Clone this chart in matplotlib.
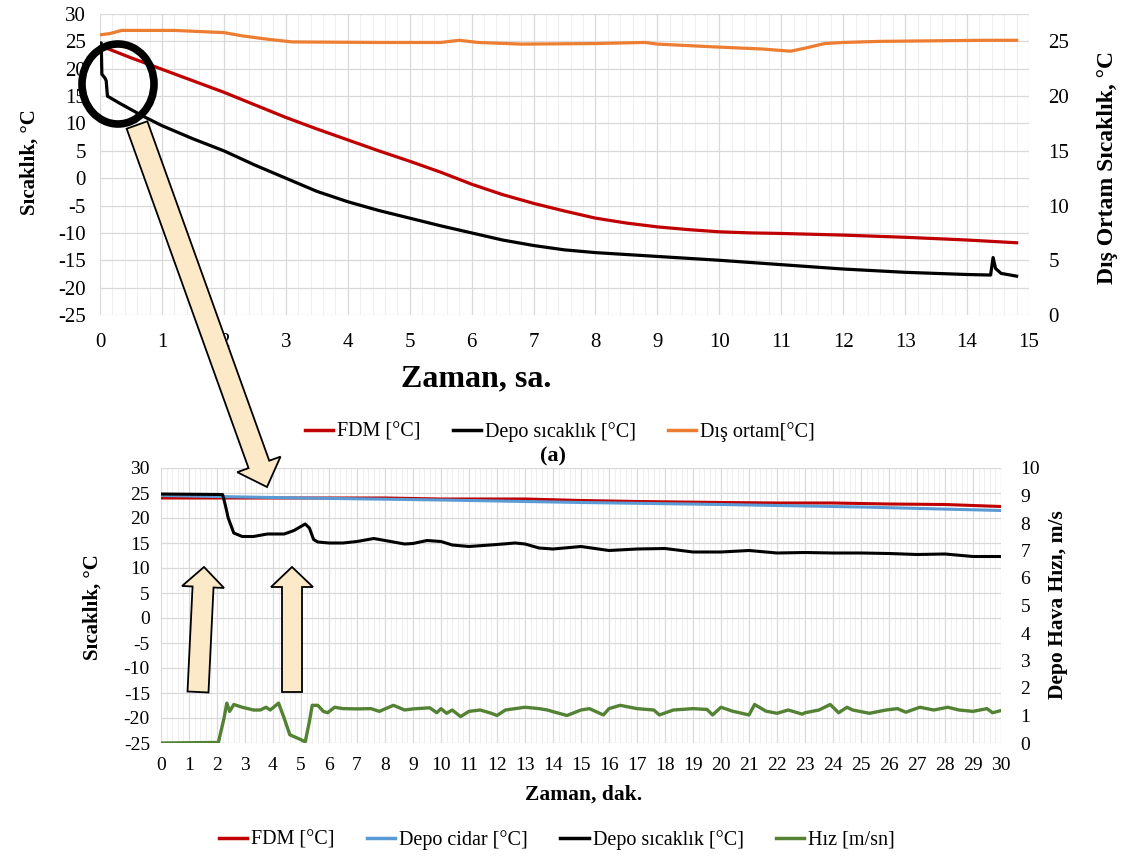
import numpy as np
import matplotlib.pyplot as plt
from matplotlib.patches import FancyArrow, Ellipse
from matplotlib.lines import Line2D

plt.rcParams['font.family'] = ['Liberation Serif', 'DejaVu Serif']
plt.rcParams['axes.unicode_minus'] = False

# --- (a) long run, hours ---
fdm_t = [0.05, 0.5, 1, 1.5, 2, 2.5, 3, 3.5, 4, 4.5, 5, 5.5, 6, 6.5, 7, 7.5, 8, 8.5,
         9, 9.5, 10, 10.5, 11, 12, 13, 14, 14.8]
fdm_v = [24.0, 22.0, 19.9, 17.8, 15.7, 13.4, 11.1, 9.0, 7.0, 5.0, 3.1, 1.1, -1.1, -3.0,
         -4.6, -6.0, -7.3, -8.2, -8.9, -9.4, -9.8, -10.0, -10.1, -10.4, -10.8, -11.3, -11.8]

depo_t = [0, 0.02, 0.03, 0.08, 0.1, 0.12, 0.3, 0.7, 1.0, 1.5, 2.0, 2.5, 3.0, 3.5, 4.0,
          4.5, 5.0, 5.5, 6.0, 6.5, 7.0, 7.5, 8.0, 9.0, 10.0, 11.0, 12.0, 13.0, 14.0,
          14.38, 14.42, 14.46, 14.55, 14.8]
depo_v = [24.7, 24.7, 19.0, 18.3, 17.8, 15.0, 13.8, 11.3, 9.6, 7.2, 5.0, 2.4, 0.0, -2.4,
          -4.3, -5.9, -7.3, -8.7, -10.0, -11.3, -12.3, -13.1, -13.6, -14.3, -15.0, -15.8,
          -16.6, -17.2, -17.6, -17.7, -14.5, -16.5, -17.4, -17.9]

dis_t = [0, 0.15, 0.35, 1.2, 1.6, 2.0, 2.3, 2.7, 3.1, 4.5, 5.5, 5.8, 6.1, 6.8, 8.0, 8.8,
         9.0, 9.9, 10.7, 11.15, 11.4, 11.7, 12.0, 12.6, 14.3, 14.8]
dis_v = [25.6, 25.7, 26.0, 26.0, 25.9, 25.8, 25.5, 25.2, 24.95, 24.9, 24.9, 25.1, 24.9,
         24.75, 24.8, 24.9, 24.75, 24.5, 24.3, 24.1, 24.4, 24.8, 24.9, 25.0, 25.1, 25.1]

# --- first 30 minutes ---
fdm2_t = [0, 2, 5, 8, 10, 13, 15, 17, 20, 22, 24, 26, 28, 30]
fdm2_v = [24.0, 24.0, 24.0, 24.0, 23.8, 23.8, 23.5, 23.3, 23.1, 23.0, 23.0, 22.8, 22.7, 22.3]

cidar_t = [0, 2, 5, 10, 15, 20, 25, 30]
cidar_v = [24.5, 24.3, 24.0, 23.6, 23.1, 22.7, 22.2, 21.5]

depo2_t = [0, 2.2, 2.3, 2.4, 2.6, 2.9, 3.3, 3.8, 4.4, 4.75, 5.15, 5.3, 5.45, 5.6, 6, 6.5,
           7, 7.6, 8, 8.7, 9, 9.5, 10, 10.4, 11, 12, 12.65, 13, 13.5, 14, 15, 16, 17,
           18, 19, 20, 21, 22, 23, 24, 25, 26, 27, 28, 29, 30]
depo2_v = [24.8, 24.7, 22.5, 20.0, 17.0, 16.3, 16.3, 16.8, 16.8, 17.5, 18.8, 18.0, 15.7,
           15.2, 15.0, 15.0, 15.3, 15.9, 15.5, 14.8, 14.9, 15.5, 15.3, 14.6, 14.3, 14.7,
           15.0, 14.8, 14.0, 13.8, 14.3, 13.5, 13.8, 13.9, 13.2, 13.2, 13.5, 13.0, 13.1,
           13.0, 13.0, 12.9, 12.7, 12.8, 12.3, 12.3]

hiz_t = [0, 2.05, 2.25, 2.35, 2.45, 2.6, 2.9, 3.3, 3.55, 3.75, 3.9, 4.2, 4.4, 4.6, 5.0,
         5.15, 5.3, 5.4, 5.6, 5.8, 5.95, 6.2, 6.5, 7.0, 7.5, 7.8, 8.0, 8.3, 8.7, 9.0,
         9.6, 9.85, 10.0, 10.2, 10.4, 10.7, 11.0, 11.4, 11.8, 12.0, 12.3, 13.0, 13.5,
         13.8, 14.0, 14.5, 15.0, 15.3, 15.8, 16.0, 16.4, 17.0, 17.6, 17.8, 18.3, 19.0,
         19.5, 19.7, 20.0, 20.4, 21.0, 21.2, 21.6, 22.0, 22.4, 22.9, 23.0, 23.5, 23.9,
         24.2, 24.5, 24.7, 25.3, 25.9, 26.3, 26.6, 27.1, 27.6, 28.1, 28.5, 29.0, 29.5,
         29.7, 30.0]
hiz_v = [0.0, 0.02, 0.9, 1.45, 1.15, 1.4, 1.3, 1.2, 1.2, 1.3, 1.2, 1.45, 0.9, 0.3, 0.12,
         0.04, 0.78, 1.37, 1.37, 1.15, 1.1, 1.3, 1.25, 1.24, 1.25, 1.15, 1.24, 1.37, 1.2,
         1.24, 1.28, 1.1, 1.25, 1.08, 1.2, 0.96, 1.15, 1.2, 1.08, 1.0, 1.2, 1.3, 1.25, 1.2,
         1.14, 1.0, 1.2, 1.25, 1.02, 1.25, 1.37, 1.25, 1.2, 1.02, 1.2, 1.25, 1.22, 1.02,
         1.3, 1.16, 1.02, 1.4, 1.16, 1.08, 1.2, 1.05, 1.1, 1.2, 1.4, 1.1, 1.3, 1.2, 1.08,
         1.2, 1.25, 1.12, 1.3, 1.2, 1.3, 1.2, 1.15, 1.25, 1.1, 1.18]

RED = '#C00000'
BLUE = '#5B9BD5'
ORANGE = '#ED7D31'
GREEN = '#548235'
BEIGE = '#FCE9C8'

W, H = 1125, 859
fig = plt.figure(figsize=(W / 100, H / 100), dpi=100)


def box(x0, y0, x1, y1):
    # pixel box (top-left origin) -> figure fraction rect
    return [x0 / W, 1 - y1 / H, (x1 - x0) / W, (y1 - y0) / H]


def fxy(x, y):
    return x / W, 1 - y / H


def style(ax, xmax, tick_fs):
    for s in ax.spines.values():
        s.set_visible(False)
    ax.set_xlim(0, xmax)
    ax.set_xticks(np.arange(0, xmax + 1, 1))
    ax.set_xticks(np.arange(0, xmax + 0.01, 0.2), minor=True)
    ax.grid(True, which='major', color='#D9D9D9', lw=0.9)
    ax.grid(True, which='minor', axis='x', color='#EBEBEB', lw=0.6)
    ax.tick_params(which='both', length=0, labelsize=tick_fs)
    ax.set_axisbelow(True)


# top panel
ax1 = fig.add_axes(box(100, 14, 1029, 315))
style(ax1, 15, 15)
ax1.set_ylim(-25, 30)
ax1.set_yticks(np.arange(-25, 31, 5))
ax1.tick_params(axis='x', pad=13)
ax1.tick_params(axis='y', pad=10)
ax1.plot(fdm_t, fdm_v, color=RED, lw=2.3)
ax1.plot(depo_t, depo_v, color='black', lw=2.3)
ax1b = ax1.twinx()
for s in ax1b.spines.values():
    s.set_visible(False)
ax1b.set_ylim(0, 27.5)
ax1b.set_yticks(np.arange(0, 26, 5))
ax1b.tick_params(length=0, labelsize=15, pad=14)
ax1b.plot(dis_t, dis_v, color=ORANGE, lw=2.3)

fig.text(*fxy(30, 162), 'Sıcaklık, °C', rotation=90, ha='center', va='center',
         fontsize=15, fontweight='bold')
fig.text(*fxy(1107, 167), 'Dış Ortam Sıcaklık, °C', rotation=90, ha='center',
         va='center', fontsize=17, fontweight='bold')
fig.text(*fxy(476, 379), 'Zaman, sa.', ha='center', va='center', fontsize=23,
         fontweight='bold')

h1 = [Line2D([], [], color=RED, lw=2.5), Line2D([], [], color='black', lw=2.5),
      Line2D([], [], color=ORANGE, lw=2.5)]
fig.legend(h1, ['FDM [°C]', 'Depo sıcaklık [°C]', 'Dış ortam[°C]'],
           loc='center', bbox_to_anchor=fxy(560, 432), ncol=3, frameon=False,
           fontsize=14.5, handlelength=1.4, handletextpad=0.2, columnspacing=1.6)
fig.text(*fxy(553, 456), '(a)', ha='center', va='center', fontsize=16,
         fontweight='bold')

# bottom panel
ax2 = fig.add_axes(box(161, 468, 1001, 743))
style(ax2, 30, 14)
ax2.set_ylim(-25, 30)
ax2.set_yticks(np.arange(-25, 31, 5))
ax2.tick_params(axis='x', pad=10)
ax2.tick_params(axis='y', pad=8)
ax2.plot(fdm2_t, fdm2_v, color=RED, lw=2.2)
ax2.plot(cidar_t, cidar_v, color=BLUE, lw=2.2)
ax2.plot(depo2_t, depo2_v, color='black', lw=2.2)
ax2b = ax2.twinx()
for s in ax2b.spines.values():
    s.set_visible(False)
ax2b.set_ylim(0, 10)
ax2b.set_yticks(np.arange(0, 11, 1))
ax2b.tick_params(length=0, labelsize=14, pad=14)
ax2b.plot(hiz_t, hiz_v, color=GREEN, lw=2.4)

fig.text(*fxy(93, 607), 'Sıcaklık, °C', rotation=90, ha='center', va='center',
         fontsize=15, fontweight='bold')
fig.text(*fxy(1058, 605), 'Depo Hava Hızı, m/s', rotation=90, ha='center',
         va='center', fontsize=15.5, fontweight='bold')
fig.text(*fxy(584, 795), 'Zaman, dak.', ha='center', va='center', fontsize=15.5,
         fontweight='bold')

h2 = [Line2D([], [], color=RED, lw=2.5), Line2D([], [], color=BLUE, lw=2.5),
      Line2D([], [], color='black', lw=2.5), Line2D([], [], color=GREEN, lw=2.5)]
fig.legend(h2, ['FDM [°C]', 'Depo cidar [°C]', 'Depo sıcaklık [°C]', 'Hız [m/sn]'],
           loc='center', bbox_to_anchor=fxy(557, 840), ncol=4, frameon=False,
           fontsize=14.5, handlelength=1.4, handletextpad=0.2, columnspacing=1.6)

# callouts drawn in pixel space on top of everything
ov = fig.add_axes([0, 0, 1, 1], zorder=10)
ov.set_xlim(0, W)
ov.set_ylim(H, 0)
ov.axis('off')
ov.patch.set_alpha(0)
ov.add_patch(FancyArrow(137, 125, 130, 362, width=22, head_width=46, head_length=24,
                        length_includes_head=True, fc=BEIGE, ec='black', lw=1.3))
ov.add_patch(Ellipse((118, 84), 72, 80, fill=False, ec='black', lw=5.5))
ov.add_patch(FancyArrow(198, 692, 6, -125, width=21, head_width=42, head_length=20,
                        length_includes_head=True, fc=BEIGE, ec='black', lw=1.3))
ov.add_patch(FancyArrow(292, 692, 0, -125, width=20, head_width=42, head_length=20,
                        length_includes_head=True, fc=BEIGE, ec='black', lw=1.3))

fig.savefig('out.png', dpi=100)
